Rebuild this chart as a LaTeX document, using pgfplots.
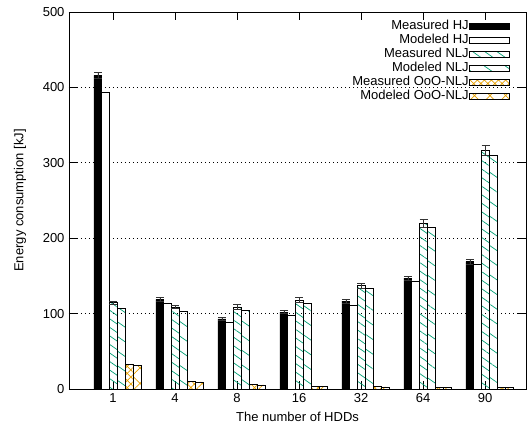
\documentclass[border=0pt]{standalone}
\usepackage{fontspec}
\setmainfont{Liberation Sans}
\usepackage{pgfplots}
\pgfplotsset{compat=1.18}
\usetikzlibrary{patterns.meta}

\definecolor{nljgreen}{HTML}{009E73}
\definecolor{ooorange}{HTML}{E69F00}

\pgfplotsset{
  boxleg/.style={legend image code/.code={\draw[##1] (0bp,-3bp) rectangle (40bp,3bp);}},
  errs/.style={
    /pgfplots/error bars/y dir=both,
    /pgfplots/error bars/y explicit,
    /pgfplots/error bars/error bar style={black!80, line width=0.6bp},
    /pgfplots/error bars/error mark options={rotate=90, mark size=4bp, black!80, line width=0.6bp}},
}

\begin{document}
\fontsize{13bp}{15bp}\selectfont
\begin{tikzpicture}
\path[use as bounding box] (-69bp,-41bp) rectangle (462bp,389bp);
\begin{axis}[
  scale only axis, width=457bp, height=377bp,
  ybar=0pt, bar width=0.126,
  xmin=-0.78, xmax=6.59, ymin=0, ymax=500,
  xtick={-0.07,0.93,1.93,2.93,3.93,4.93,5.93},
  xticklabels={1,4,8,16,32,64,90},
  ytick={0,100,200,300,400,500},
  tick align=inside, major tick length=8bp,
  tick style={black, line width=0.6bp},
  ymajorgrids, grid style={black, line width=0.7bp, dash pattern=on 0.8bp off 3.2bp},
  axis line style={line width=0.8bp},
  /pgf/number format/assume math mode=true,
  xlabel={The number of HDDs},
  ylabel={Energy consumption [kJ]},
  xlabel style={at={(axis description cs:0.5,-0.074)}, anchor=center},
  ylabel style={at={(axis description cs:-0.107,0.5)}, anchor=center},
  legend cell align=right,
  legend plot pos=right,
  legend style={at={(1,1)}, anchor=north east, xshift=-16bp, yshift=-8bp,
    draw=none, fill=none, inner sep=0pt, row sep=1bp,
    nodes={inner sep=0.5bp, text height=9bp, text depth=3bp},
    /tikz/every even column/.append style={column sep=9bp}},
]
\addplot[boxleg, errs, fill=black, draw=black, line width=0.6bp] coordinates {
  (0,416) +- (0,4.4) (1,119) +- (0,2.2) (2,93) +- (0,2.5) (3,102) +- (0,2)
  (4,116.7) +- (0,2.5) (5,147) +- (0,3) (6,169) +- (0,3)};
\addlegendentry{Measured HJ}
\addplot[boxleg, fill=white, draw=black, line width=0.6bp] coordinates {
  (0,394) (1,113.6) (2,88.4) (3,97.3) (4,110.5) (5,142.3) (6,165.8)};
\addlegendentry{Modeled HJ}
\addplot[boxleg, errs, draw=black, line width=0.6bp,
  pattern={Lines[angle=-35, distance=7bp, line width=0.7bp]}, pattern color=nljgreen] coordinates {
  (0,114.5) +- (0,2) (1,109) +- (0,2) (2,109) +- (0,3) (3,118) +- (0,3)
  (4,137) +- (0,3) (5,220) +- (0,5.3) (6,316) +- (0,6.6)};
\addlegendentry{Measured NLJ}
\addplot[boxleg, draw=black, line width=0.6bp,
  pattern={Lines[angle=-35, distance=12bp, line width=0.7bp]}, pattern color=nljgreen] coordinates {
  (0,107.4) (1,103) (2,104.3) (3,113.6) (4,133) (5,214.9) (6,310)};
\addlegendentry{Modeled NLJ}
\addplot[boxleg, draw=black, line width=0.6bp,
  pattern={Hatch[angle=45, distance=5bp, line width=0.7bp]}, pattern color=ooorange] coordinates {
  (0,33) (1,10.6) (2,5.8) (3,3.5) (4,3) (5,2.5) (6,2)};
\addlegendentry{Measured OoO-NLJ}
\addplot[boxleg, draw=black, line width=0.6bp,
  pattern={Hatch[angle=45, distance=11bp, line width=0.7bp]}, pattern color=ooorange] coordinates {
  (0,31.4) (1,9.3) (2,5.5) (3,3.3) (4,2.8) (5,2.3) (6,1.9)};
\addlegendentry{Modeled OoO-NLJ}
\end{axis}
\end{tikzpicture}
\end{document}
